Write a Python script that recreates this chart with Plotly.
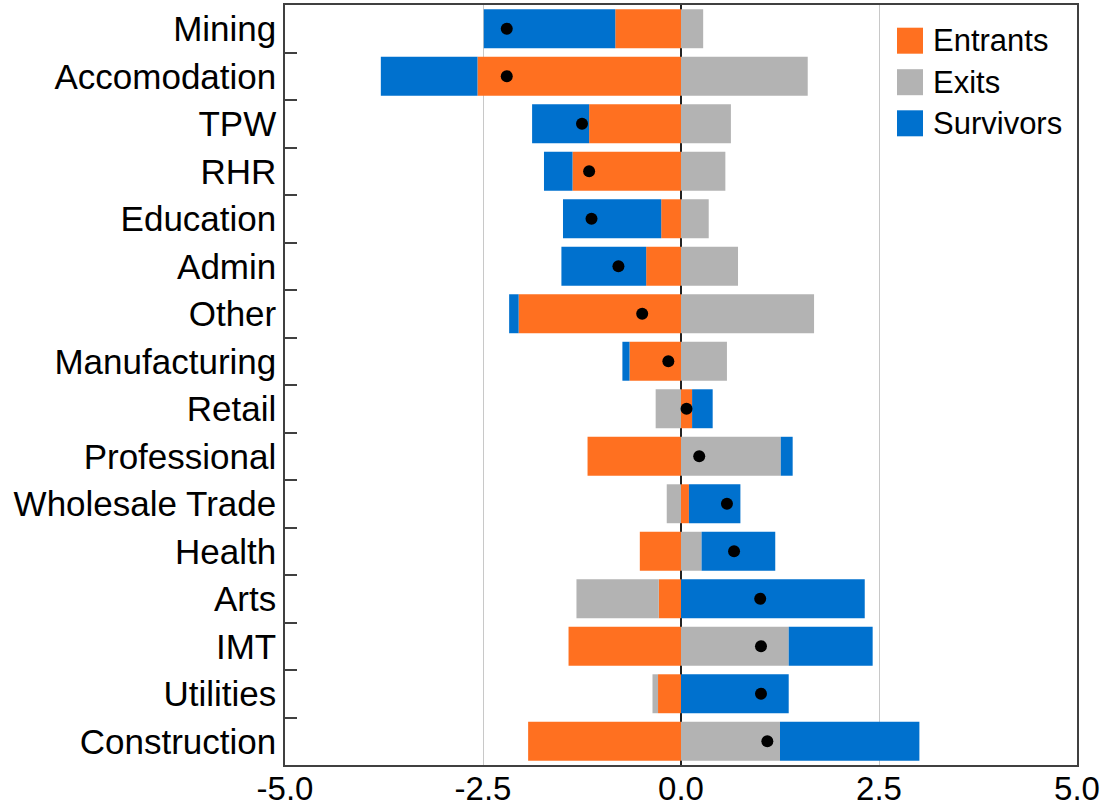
import plotly.graph_objects as go

industries = ["Mining", "Accomodation", "TPW", "RHR", "Education", "Admin", "Other",
              "Manufacturing", "Retail", "Professional", "Wholesale Trade", "Health",
              "Arts", "IMT", "Utilities", "Construction"]
entrants = [-0.83, -2.57, -1.16, -1.37, -0.25, -0.44, -2.05, -0.65, 0.14, -1.18, 0.10, -0.52, -0.28, -1.42, -0.29, -1.93]
exits = [0.28, 1.60, 0.63, 0.56, 0.35, 0.72, 1.68, 0.58, -0.32, 1.26, -0.18, 0.26, -1.04, 1.36, -0.07, 1.25]
survivors = [-1.66, -1.22, -0.72, -0.36, -1.24, -1.07, -0.12, -0.09, 0.26, 0.15, 0.65, 0.93, 2.32, 1.06, 1.36, 1.76]
net = [-2.20, -2.20, -1.25, -1.16, -1.13, -0.79, -0.49, -0.16, 0.07, 0.23, 0.58, 0.67, 1.00, 1.01, 1.01, 1.09]

x_ticks = [-5.0, -2.5, 0.0, 2.5, 5.0]
series_names = ["Entrants", "Exits", "Survivors"]
colors = ["#FF7020", "#B3B3B3", "#0071CE"]

FONT = "Arial, Liberation Sans, sans-serif"

fig = go.Figure()
for name, vals, col in zip(series_names, [entrants, exits, survivors], colors):
    fig.add_trace(go.Bar(y=industries, x=vals, orientation="h", name=name,
                         marker=dict(color=col, line=dict(width=0)), showlegend=False))
fig.add_trace(go.Scatter(y=industries, x=net, mode="markers", name="Net",
                         marker=dict(color="black", size=12), showlegend=False))

# manual legend with large square swatches
L, R, T, B = 285, 1077, 5, 765
W, H = R - L, B - T
def px_x(p):
    return (p - L) / W
def px_y(p):
    return (B - p) / H

centers = [40.7, 82.2, 123.3]
for name, col, cy in zip(series_names, colors, centers):
    fig.add_shape(type="rect", xref="paper", yref="paper",
                  x0=px_x(897), x1=px_x(923), y0=px_y(cy + 13), y1=px_y(cy - 13),
                  fillcolor=col, line=dict(width=0))
    fig.add_annotation(xref="paper", yref="paper", x=px_x(931), y=px_y(cy),
                       text=name, showarrow=False, xanchor="left", yanchor="middle",
                       font=dict(family=FONT, size=31, color="black"))

fig.update_layout(
    width=1103, height=806,
    margin=dict(l=L, r=1103 - R, t=T, b=806 - B, autoexpand=False),
    barmode="relative", bargap=0.18,
    plot_bgcolor="white", paper_bgcolor="white",
    font=dict(family=FONT, color="black"),
    showlegend=False,
)
fig.update_xaxes(
    range=[-5, 5], tickvals=x_ticks, ticktext=[f"{v:.1f}" for v in x_ticks],
    tickfont=dict(size=33, color="black"), ticks="",
    showgrid=True, gridcolor="#C8C8C8", gridwidth=1,
    zeroline=True, zerolinecolor="#222222", zerolinewidth=1.5,
    showline=True, mirror=True, linecolor="#404040", linewidth=1.5,
    automargin=False, ticklabelstandoff=-6,
)
fig.update_yaxes(
    categoryorder="array", categoryarray=industries, autorange=False,
    range=[len(industries) - 0.5, -0.5],
    tickfont=dict(size=35, color="black"),
    tickson="boundaries", ticks="inside", ticklen=12, tickwidth=1.5, tickcolor="#404040",
    showgrid=False, zeroline=False,
    showline=True, mirror=True, linecolor="#404040", linewidth=1.5,
    automargin=False, ticklabelstandoff=0,
)

fig.write_html("out.html", config={"displayModeBar": False},
               post_script="document.body.style.margin='0';document.body.style.overflow='hidden';")
